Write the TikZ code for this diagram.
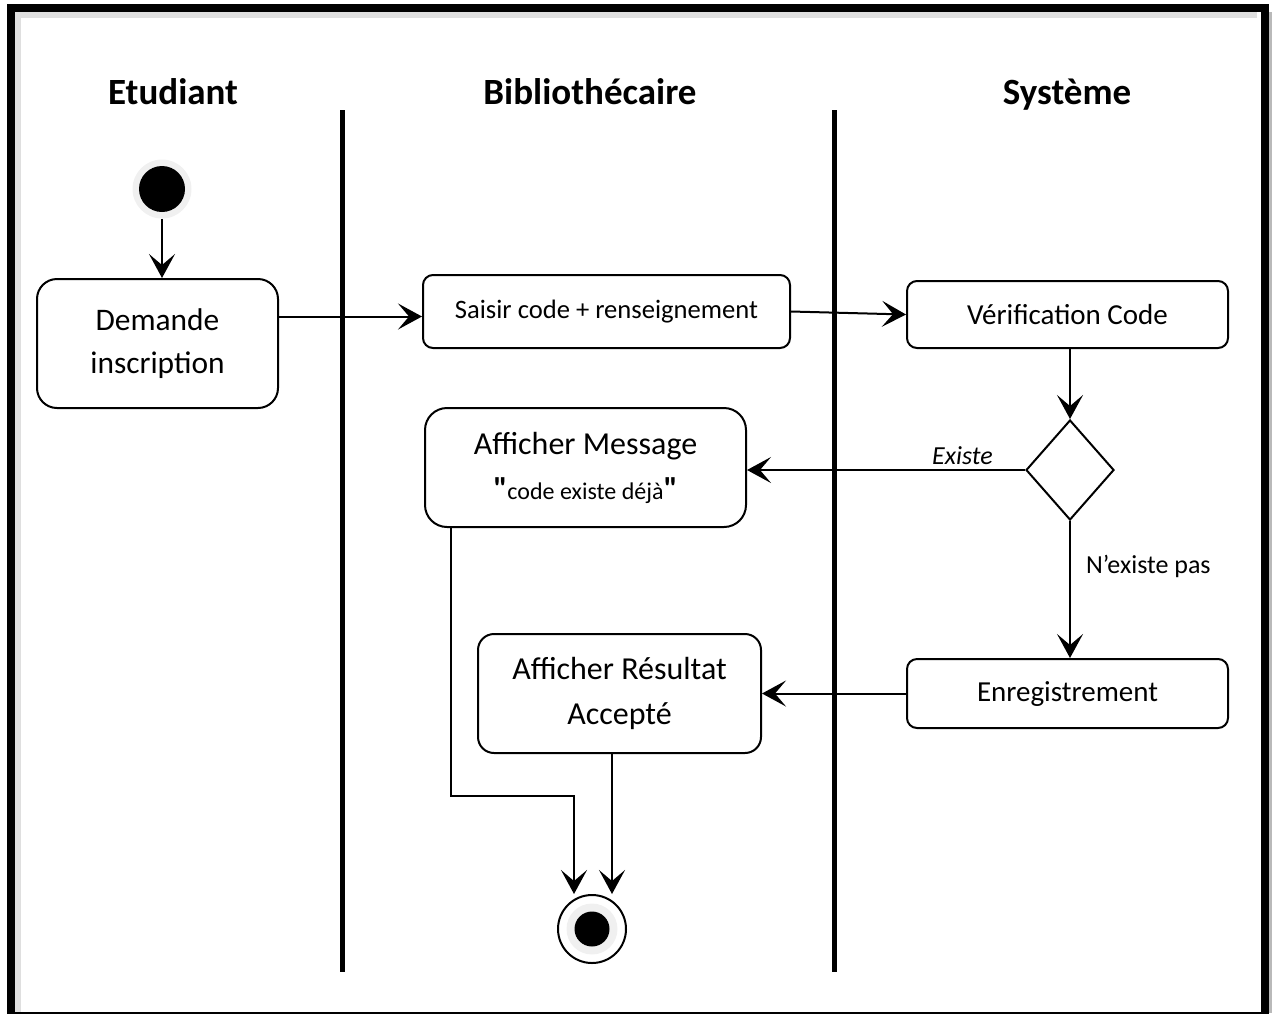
\documentclass[tikz,border=0pt]{standalone}
\usepackage{fontspec}
\setmainfont{Carlito}
\newfontfamily\plainq{Carlito}
\usetikzlibrary{shapes.geometric,arrows.meta}

\begin{document}
\begin{tikzpicture}[x=0.5pt,y=-0.5pt,
  act/.style={draw,line width=1pt,align=center,inner sep=0pt},
  flow/.style={line width=1pt,-{Stealth[length=12pt,width=13pt,inset=5.5pt]}},
  lane/.style={line width=2.5pt},
  title/.style={font=\fontsize{18.5}{22}\selectfont\bfseries}]
\pgfmathsetmacro{\la}{342} % first lane line
\pgfmathsetmacro{\lb}{834.5} % second lane line
\pgfmathsetmacro{\top}{110}
\pgfmathsetmacro{\bot}{972}
\useasboundingbox (0,0) rectangle (1272,1013);
% frame
\draw[gray!25,line width=3pt] (18,1013) -- (18,15) -- (1257,15);
\draw[gray!55,line width=2pt] (1270,12) -- (1270,1013);
\draw[line width=4pt] (11,1016) rectangle (1264.5,8);
% lanes
\node[title] (etu) at (173,92) {Etudiant};
\node[title] (bib) at (590,92) {Bibliothécaire};
\node[title] (sys) at (1067,95) {Système};
\draw[lane] (\la,\top) -- (\la,\bot);
\draw[lane] (\lb,\top) -- (\lb,\bot);
% activities
\node[circle,fill=gray!12,minimum size=29.5pt,inner sep=0pt,
  path picture={\fill[black] (path picture bounding box.center) circle (11.5pt);}] (start) at (162,189) {};
\node[act,rounded corners=10pt,minimum width=120.5pt,minimum height=64.5pt,
  font=\fontsize{15.7}{21.5}\selectfont] (dem) at (157.5,343.5) {Demande\\inscription};
\node[act,rounded corners=5pt,minimum width=183.5pt,minimum height=36.5pt,
  font=\fontsize{13.3}{16}\selectfont] (saisir) at (606.5,311.5) {Saisir code + renseignement};
\node[act,rounded corners=5pt,minimum width=160.5pt,minimum height=33.5pt,
  font=\fontsize{14.5}{17}\selectfont] (verif) at (1067.5,314.5) {Vérification Code};
\node[diamond,draw,line width=1pt,minimum width=44pt,minimum height=50pt,inner sep=0pt] (dec) at (1070,470) {};
\node[act,rounded corners=11pt,minimum width=160.5pt,minimum height=59.5pt,
  font=\fontsize{16}{22.5}\selectfont] (msg) at (585.5,467.5)
  {Afficher Message\\{\plainq\bfseries"}{\fontsize{12}{22.5}\selectfont code existe déjà}{\plainq\bfseries"}};
\node[act,rounded corners=5pt,minimum width=160.5pt,minimum height=34.5pt,
  font=\fontsize{14.5}{17}\selectfont] (enreg) at (1067.5,693.5) {Enregistrement};
\node[act,rounded corners=8pt,minimum width=141.5pt,minimum height=59.5pt,
  font=\fontsize{16}{22.5}\selectfont] (res) at (619.5,693.5) {Afficher Résultat\\Accepté};
\node[circle,draw,line width=1pt,minimum size=34pt,inner sep=0pt,
  path picture={\fill[gray!12] (path picture bounding box.center) circle (12.75pt);
                \fill[black] (path picture bounding box.center) circle (8.75pt);}] (stop) at (592,929) {};
% flows
\coordinate (sin) at ([yshift=-2.5pt]saisir.west);
\coordinate (bend) at (574,796);
\draw[flow] (start.south) -- (start.south |- dem.north);
\draw[flow] (dem.east |- sin) -- (sin);
\draw[flow] (saisir.east) -- (verif.west);
\draw[flow] (dec.north |- verif.south) -- (dec.north);
\draw[flow] (dec.west) -- node[above,pos=0.225,inner sep=2pt,font=\fontsize{13}{15}\selectfont\itshape]{Existe} (dec.west -| msg.east);
\draw[flow] (dec.south) -- node[right,pos=0.33,inner sep=7.5pt,font=\fontsize{13}{15}\selectfont]{N’existe pas} (dec.south |- enreg.north);
\draw[flow] (enreg.west) -- (res.east);
\draw[flow] ([xshift=13.5pt]msg.south west) |- (bend) -- (bend |- stop.north);
\draw[flow] ([xshift=-3.75pt]res.south) -- ([xshift=-3.75pt]res.south |- stop.north);
\end{tikzpicture}
\end{document}
